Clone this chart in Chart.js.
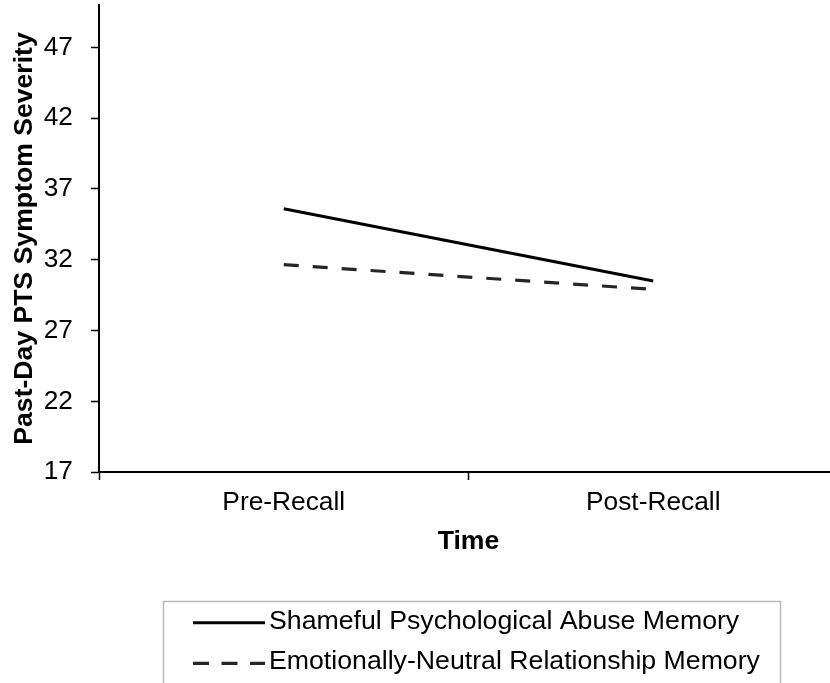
<!DOCTYPE html>
<html><head><meta charset="utf-8">
<script src="https://cdn.jsdelivr.net/npm/chart.js@4"></script>
<style>
html,body{margin:0;padding:0;background:#fff;overflow:hidden}
#wrap{width:830px;height:683px;overflow:hidden;position:relative;background:#fff}
#c{position:absolute;left:0;top:0}
</style></head>
<body><div id="wrap"><canvas id="c" width="840" height="683"></canvas></div>
<script>
const categories = ['Pre-Recall', 'Post-Recall'];
const shamefulValues = [35.6, 30.5];
const neutralValues = [31.65, 29.9];
const seriesLabels = ['Shameful Psychological Abuse Memory', 'Emotionally-Neutral Relationship Memory'];
const yTickValues = [17, 22, 27, 32, 37, 42, 47];
const yMin = 17;
const yMax = 50;
const xTitle = 'Time';
const yTitle = 'Past-Day PTS Symptom Severity';

const FAMILY = '"Liberation Sans", Arial, Helvetica, sans-serif';

const boxLegend = {
  id: 'boxLegend',
  afterDraw(chart) {
    const ctx = chart.ctx;
    ctx.save();
    ctx.strokeStyle = '#b8b8b8';
    ctx.lineWidth = 1.5;
    ctx.setLineDash([]);
    ctx.strokeRect(163.5, 601.5, 617, 140);
    chart.data.datasets.forEach((ds, i) => {
      const y = 622.7 + i * 40.6;
      ctx.beginPath();
      ctx.setLineDash(ds.legendDash || []);
      ctx.lineWidth = ds.borderWidth;
      ctx.strokeStyle = ds.borderColor;
      ctx.lineCap = 'butt';
      ctx.moveTo(193, y);
      ctx.lineTo(265, y);
      ctx.stroke();
      ctx.setLineDash([]);
      ctx.fillStyle = '#000';
      ctx.font = '26.7px ' + FAMILY;
      ctx.textBaseline = 'alphabetic';
      ctx.textAlign = 'left';
      ctx.fillText(ds.label, 269, y + 5.8);
    });
    ctx.restore();
  }
};

new Chart(document.getElementById('c'), {
  type: 'line',
  data: {
    labels: categories,
    datasets: [
      {
        label: seriesLabels[0],
        data: shamefulValues,
        borderColor: '#000000',
        borderWidth: 3,
        pointRadius: 0,
        fill: false,
        tension: 0
      },
      {
        label: seriesLabels[1],
        data: neutralValues,
        borderColor: '#262626',
        borderWidth: 3.2,
        borderDash: [15, 14],
        legendDash: [16, 12.5],
        pointRadius: 0,
        fill: false,
        tension: 0
      }
    ]
  },
  options: {
    responsive: false,
    animation: false,
    devicePixelRatio: 1,
    layout: { padding: { top: 5, right: 2, left: 0, bottom: 0 } },
    plugins: { legend: { display: false }, tooltip: { enabled: false }, title: { display: false } },
    scales: {
      x: {
        type: 'category',
        offset: true,
        grid: { offset: true, drawOnChartArea: false, drawTicks: true, tickLength: 8, tickWidth: 1.5, tickColor: '#000' },
        border: { display: true, color: '#000', width: 2 },
        ticks: { color: '#000', font: { size: 26.3, family: FAMILY }, padding: 7, maxRotation: 0, autoSkip: false },
        title: { display: true, text: xTitle, color: '#000', font: { size: 26.6, weight: 'bold', family: FAMILY }, padding: { top: 0, bottom: 125 } },
        afterFit(s) { s.height = 211; s.paddingLeft = 0; s.paddingRight = 0; }
      },
      y: {
        type: 'linear',
        min: yMin,
        max: yMax,
        afterBuildTicks(s) { s.ticks = yTickValues.map(v => ({ value: v })); },
        grid: { drawOnChartArea: false, drawTicks: true, tickLength: 8, tickWidth: 1.5, tickColor: '#000' },
        border: { display: true, color: '#000', width: 2 },
        ticks: { color: '#000', font: { size: 26.3, family: FAMILY }, padding: 18 },
        title: { display: true, text: yTitle, color: '#000', font: { size: 26.6, weight: 'bold', family: FAMILY }, padding: { top: 8.5, bottom: 0 } },
        afterFit(s) { s.width = 99; s.paddingTop = 0; s.paddingBottom = 0; }
      }
    }
  },
  plugins: [boxLegend]
});
</script>
</body></html>
